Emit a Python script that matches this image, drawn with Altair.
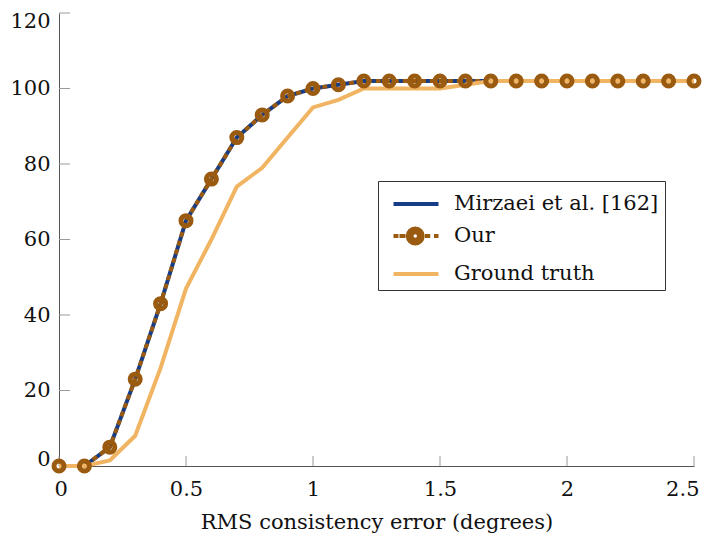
import altair as alt
import pandas as pd

x_vals = [0.0, 0.1, 0.2, 0.3, 0.4, 0.5, 0.6, 0.7, 0.8, 0.9, 1.0, 1.1, 1.2,
          1.3, 1.4, 1.5, 1.6, 1.7, 1.8, 1.9, 2.0, 2.1, 2.2, 2.3, 2.4, 2.5]
mirzaei = [0, 0, 5, 23, 43, 65, 76, 87, 93, 98, 100, 101, 102,
           102, 102, 102, 102, 102, 102, 102, 102, 102, 102, 102, 102, 102]
ours = [0, 0, 5, 23, 43, 65, 76, 87, 93, 98, 100, 101, 102,
        102, 102, 102, 102, 102, 102, 102, 102, 102, 102, 102, 102, 102]
ground = [0, 0, 1.5, 8, 26, 47, 60, 74, 79, 87, 95, 97, 100,
          100, 100, 100, 101, 102, 102, 102, 102, 102, 102, 102, 102, 102]

series_names = ["Mirzaei et al. [162]", "Our", "Ground truth"]
series_colors = ["#173d86", "#9a5a0f", "#f1b462"]
# legend glyphs (line sample; dashed line with ring marker; line sample)
legend_glyphs = [
    "M-0.5,0H2.5",
    "M-0.5,0H-0.17M-0.1,0H0.3M1.6,0H1.95M2.2,0H2.5"
    "M0.45,0A0.5,0.5 0 1,0 1.45,0A0.5,0.5 0 1,0 0.45,0"
    "M0.7,0A0.25,0.25 0 1,0 1.2,0A0.25,0.25 0 1,0 0.7,0",
    "M-0.5,0H2.5",
]

x_ticks = [0, 0.5, 1, 1.5, 2, 2.5]
y_ticks = [0, 20, 40, 60, 80, 100, 120]

FONT = "DejaVu Serif"

def frame(vals, name):
    return pd.DataFrame({"x": x_vals, "y": vals, "series": name})

df_m = frame(mirzaei, series_names[0])
df_o = frame(ours, series_names[1])
df_g = frame(ground, series_names[2])

xs = alt.Scale(domain=[0, 2.5], nice=False)
ys = alt.Scale(domain=[0, 120], nice=False)

X = alt.X("x:Q", scale=xs, title="RMS consistency error (degrees)",
          axis=alt.Axis(values=x_ticks, ticks=False, grid=False, labelPadding=12,
                        titlePadding=12, labelFlush=1, labelFlushOffset=5, format="~g"))
Y = alt.Y("y:Q", scale=ys, title=None,
          axis=alt.Axis(values=y_ticks, ticks=False, grid=False, labelPadding=9,
                        labelFlush=1, labelFlushOffset=3))

line_m = alt.Chart(df_m).mark_line(strokeWidth=4, strokeCap="butt", color=series_colors[0]).encode(x=X, y=Y)
line_o = alt.Chart(df_o).mark_line(strokeWidth=4, strokeCap="butt", color=series_colors[1],
                                   strokeDash=[5, 4]).encode(x=X, y=Y)
line_g = alt.Chart(df_g).mark_line(strokeWidth=4, color=series_colors[2]).encode(x=X, y=Y)
pts_o = alt.Chart(df_o).mark_point(shape="circle", filled=False, size=100, strokeWidth=5,
                                   color=series_colors[1], opacity=1).encode(x=X, y=Y)

leg = alt.Legend(title=None, orient="none", legendX=319, legendY=168)
legend_df = pd.DataFrame({"x": [0.0, 0.0, 0.0], "y": [0, 0, 0], "series": series_names})
# layer that draws nothing itself and only carries the legend
legend_layer = alt.Chart(legend_df).transform_filter("false").mark_point(
    filled=False, strokeWidth=4, opacity=1).encode(
    x=X, y=Y,
    color=alt.Color("series:N", scale=alt.Scale(domain=series_names, range=series_colors), legend=leg),
    shape=alt.Shape("series:N", scale=alt.Scale(domain=series_names, range=legend_glyphs), legend=leg),
)

xt = alt.Chart(pd.DataFrame({"v": x_ticks})).mark_rule(color="#9a9a9a", strokeWidth=1).encode(
    x=alt.X("v:Q", scale=xs), y=alt.value(453), y2=alt.value(443))
yt = alt.Chart(pd.DataFrame({"v": y_ticks})).mark_rule(color="#9a9a9a", strokeWidth=1).encode(
    y=alt.Y("v:Q", scale=ys), x=alt.value(0), x2=alt.value(11))

chart = alt.layer(xt, yt, line_m, line_o, line_g, pts_o, legend_layer).properties(
    width=635, height=453,
    autosize=alt.AutoSizeParams(type="none"),
    padding={"left": 51, "top": 5, "right": 10, "bottom": 68},
).configure_view(stroke=None).configure_axis(
    labelFont=FONT, titleFont=FONT, labelFontSize=21, titleFontSize=21,
    labelColor="#111", titleColor="#111", titleFontWeight="normal",
    domainColor="#555", domainWidth=1,
).configure_legend(
    labelFont=FONT, labelFontSize=21, labelColor="#111",
    symbolSize=900, symbolStrokeWidth=4, symbolOpacity=1,
    rowPadding=5, padding=6, labelOffset=36,
    strokeColor="#333", fillColor="white", labelLimit=400,
)

chart.save("out.html", embed_options={"renderer": "svg", "actions": False})
